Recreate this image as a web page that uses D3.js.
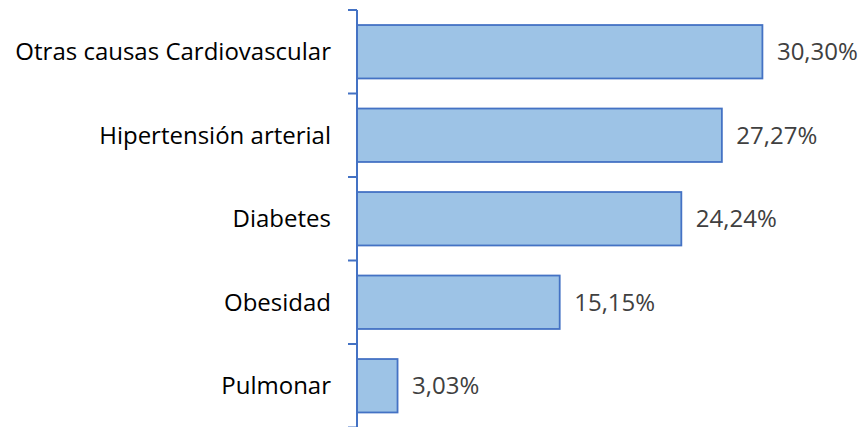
<!DOCTYPE html>
<html><head><meta charset="utf-8">
<script src="https://cdn.jsdelivr.net/npm/d3@7"></script>
<style>body{margin:0;background:#fff}svg{display:block}</style>
</head><body>
<svg id="c" width="866" height="427"></svg>
<script>
const categories = ["Otras causas Cardiovascular","Hipertensión arterial","Diabetes","Obesidad","Pulmonar"];
const values = [30.30, 27.27, 24.24, 15.15, 3.03];
const valueLabels = ["30,30%","27,27%","24,24%","15,15%","3,03%"];

const svg = d3.select("#c");
const x0 = 357, plotTop = 10, plotBottom = 427.5;
const x = d3.scaleLinear().domain([0, 35]).range([x0, x0 + 35 * 13.38]);
const y = d3.scaleBand().domain(categories).range([plotTop, plotBottom]).paddingInner(0.36).paddingOuter(0.18);

// bars
svg.selectAll("rect.bar").data(values).enter().append("rect")
  .attr("x", x(0))
  .attr("y", (d,i) => y(categories[i]))
  .attr("width", d => x(d) - x(0))
  .attr("height", y.bandwidth())
  .attr("fill", "#9DC3E6").attr("stroke", "#4472C4").attr("stroke-width", 1.8);

// axis
const bandEdges = d3.scaleLinear().domain([0, categories.length]).range([plotTop, plotBottom]);
svg.append("line").attr("x1", x0).attr("x2", x0).attr("y1", plotTop).attr("y2", plotBottom)
  .attr("stroke", "#4472C4").attr("stroke-width", 2);
svg.selectAll("line.tick").data(d3.range(categories.length + 1)).enter().append("line")
  .attr("x1", x0 - 9).attr("x2", x0).attr("y1", d => bandEdges(d)).attr("y2", d => bandEdges(d))
  .attr("stroke", "#4472C4").attr("stroke-width", 2);

const font = "'Open Sans', sans-serif";
const fs = 24;
// category labels
svg.selectAll("text.cat").data(categories).enter().append("text")
  .attr("x", 331).attr("y", d => y(d) + y.bandwidth()/2 + fs * 0.357)
  .attr("text-anchor", "end")
  .attr("font-family", font).attr("font-size", fs)
  .attr("fill", "#000").text(d => d);

// value labels
svg.selectAll("text.val").data(values).enter().append("text")
  .attr("x", d => x(d) + 14.5).attr("y", (d,i) => y(categories[i]) + y.bandwidth()/2 + fs * 0.357)
  .attr("font-family", font).attr("font-size", fs)
  .attr("fill", "#404040").text((d,i) => valueLabels[i]);
</script>
</body></html>
